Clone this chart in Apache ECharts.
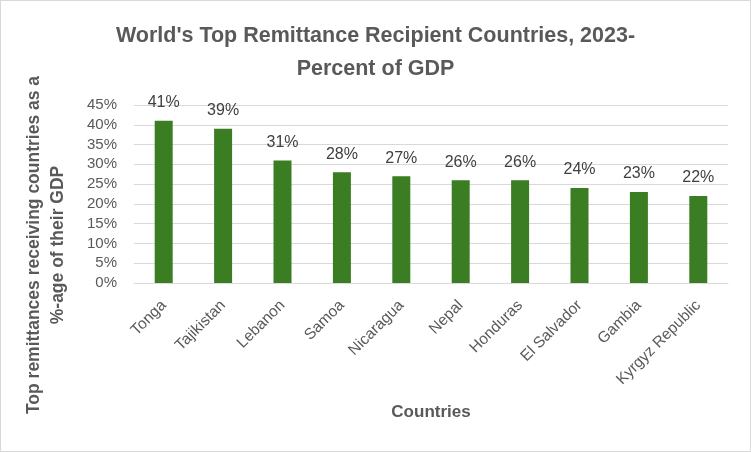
<!DOCTYPE html>
<html>
<head>
<meta charset="utf-8">
<script src="https://cdn.jsdelivr.net/npm/echarts@6/dist/echarts.min.js"></script>
<style>
  html, body { margin: 0; padding: 0; background: #fff; }
  #chart { width: 749px; height: 450px; border: 1px solid #d9d9d9; }
</style>
</head>
<body>
<div id="chart"></div>
<script>
// 数据：各国侨汇占 GDP 百分比
const countries = ['Tonga', 'Tajikistan', 'Lebanon', 'Samoa', 'Nicaragua', 'Nepal', 'Honduras', 'El Salvador', 'Gambia', 'Kyrgyz Republic']
const percentOfGdp = [41, 39, 31, 28, 27, 26, 26, 24, 23, 22]
const yTicks = [0, 5, 10, 15, 20, 25, 30, 35, 40, 45]

const FONT = '"Liberation Sans", Arial, sans-serif'
const chart = echarts.init(document.getElementById('chart'))

chart.setOption({
  animation: false,
  title: {
    text: "World's Top Remittance Recipient Countries, 2023-\nPercent of GDP",
    left: 'center',
    top: 14,
    textStyle: {
      fontFamily: FONT,
      fontSize: 21.5,
      fontWeight: 'bold',
      color: '#595959',
      lineHeight: 33
    }
  },
  grid: {
    left: 133,
    right: 22,
    top: 104,
    bottom: 168,
    outerBoundsMode: 'none',
    containLabel: false
  },
  xAxis: {
    type: 'category',
    data: countries,
    name: 'Countries',
    nameLocation: 'middle',
    nameGap: 121,
    nameTextStyle: { fontFamily: FONT, fontSize: 17, fontWeight: 'bold', color: '#595959' },
    axisLine: { lineStyle: { color: '#d9d9d9', width: 1 } },
    axisTick: { show: false },
    axisLabel: {
      interval: 0,
      rotate: 45,
      margin: 20,
      fontFamily: FONT,
      fontSize: 15.5,
      color: '#595959'
    }
  },
  yAxis: {
    type: 'value',
    min: yTicks[0],
    max: yTicks[yTicks.length - 1],
    interval: 5,
    name: 'Top remittances receiving countries as a\n%-age of their GDP',
    nameLocation: 'middle',
    nameRotate: 90,
    nameGap: 64,
    // 标题整体比绘图区中心偏下约 50px
    nameTextStyle: {
      fontFamily: FONT,
      fontSize: 17.5,
      fontWeight: 'bold',
      color: '#595959',
      lineHeight: 24,
      padding: [0, 102, 0, 0]
    },
    axisLine: { show: false },
    axisTick: { show: false },
    axisLabel: {
      formatter: '{value}%',
      margin: 17,
      fontFamily: FONT,
      fontSize: 15,
      color: '#595959'
    },
    splitLine: { lineStyle: { color: '#d9d9d9', width: 1 } }
  },
  series: [{
    type: 'bar',
    data: percentOfGdp,
    barWidth: 18,
    itemStyle: { color: '#3a7d22' },
    label: {
      show: true,
      position: 'top',
      distance: 10,
      formatter: '{c}%',
      fontFamily: FONT,
      fontSize: 16,
      color: '#404040'
    }
  }]
})
</script>
</body>
</html>
